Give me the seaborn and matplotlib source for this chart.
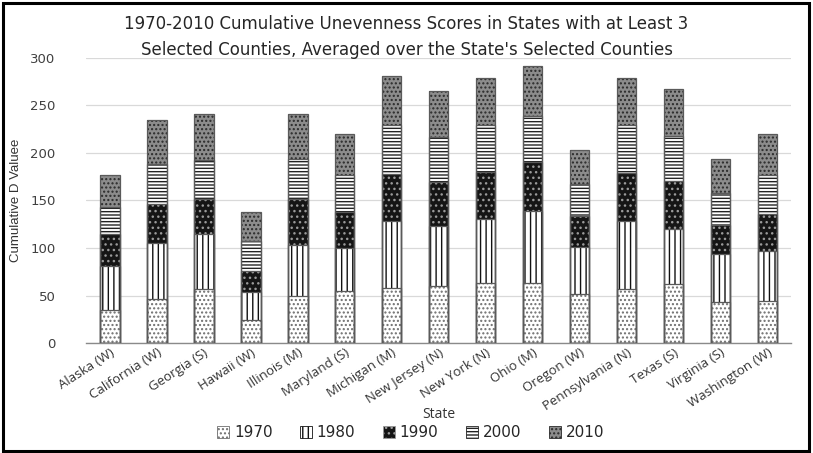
import numpy as np
import pandas as pd
import matplotlib
matplotlib.use("Agg")
import matplotlib.pyplot as plt
from matplotlib.patches import Patch, Rectangle
import seaborn as sns

states = ["Alaska (W)", "California (W)", "Georgia (S)", "Hawaii (W)", "Illinois (M)",
          "Maryland (S)", "Michigan (M)", "New Jersey (N)", "New York (N)", "Ohio (M)",
          "Oregon (W)", "Pennsylvania (N)", "Texas (S)", "Virginia (S)", "Washington (W)"]
years = ["1970", "1980", "1990", "2000", "2010"]

d1970 = [35, 47, 57, 25, 50, 55, 58, 60, 63, 63, 52, 57, 62, 43, 44]
d1980 = [46, 58, 58, 29, 53, 45, 70, 63, 68, 76, 49, 71, 58, 51, 53]
d1990 = [34, 41, 36, 22, 48, 38, 50, 46, 49, 51, 33, 51, 50, 30, 39]
d2000 = [28, 42, 41, 31, 42, 39, 51, 48, 49, 49, 33, 50, 48, 34, 41]
d2010 = [34, 46, 49, 31, 48, 43, 52, 48, 49, 52, 36, 49, 49, 35, 43]

segments = np.array([d1970, d1980, d1990, d2000, d2010], dtype=float)
cumulative = segments.cumsum(axis=0)

# face colour, hatch pattern, hatch colour for each decade
styles = {
    "1970": ("white", "....", "#6e6e6e"),
    "1980": ("white", "|||", "#111111"),
    "1990": ("#151515", "...", "#9a9a9a"),
    "2000": ("white", "-----", "#222222"),
    "2010": ("#8c8c8c", "....", "#2a2a2a"),
}

sns.set_theme(style="white")
plt.rcParams["font.family"] = ["DejaVu Sans"]
plt.rcParams["hatch.linewidth"] = 1.0

fig = plt.figure(figsize=(8.13, 4.53), dpi=100)
ax = fig.add_axes([0.106, 0.242, 0.867, 0.631])

df = pd.DataFrame({"State": states})
for i, yr in enumerate(years):
    df[yr] = cumulative[i]

# draw the stacks from the tallest (cumulative 2010) down to 1970
for i in range(len(years) - 1, -1, -1):
    yr = years[i]
    face, hatch, hcol = styles[yr]
    n0 = len(ax.patches)
    sns.barplot(data=df, x="State", y=yr, order=states, color=face, saturation=1,
                width=0.42, ax=ax, zorder=2)
    for p in ax.patches[n0:]:
        p.set_hatch(hatch)
        p.set_edgecolor(hcol)
        p.set_linewidth(0)

# thin grey outline around every segment
for p in list(ax.patches):
    ax.add_patch(Rectangle((p.get_x(), p.get_y()), p.get_width(), p.get_height(),
                           fill=False, edgecolor="#5a5a5a", linewidth=0.9, zorder=3))

ax.set_ylim(0, 300)
ax.set_xlim(-0.5, len(states) - 0.5)
ax.set_yticks(np.arange(0, 301, 50))
ax.yaxis.grid(True, color="#d9d9d9", linewidth=0.9, zorder=0)
ax.set_axisbelow(True)
for s in ["top", "right", "left"]:
    ax.spines[s].set_visible(False)
ax.spines["bottom"].set_color("#8a8a8a")
ax.spines["bottom"].set_linewidth(1.0)

ax.tick_params(axis="y", length=0, labelsize=9.5, labelcolor="#404040", pad=22)
ax.tick_params(axis="x", length=0, pad=2)
ax.set_xticks(range(len(states)))
ax.set_xticklabels(states, rotation=33, ha="right", rotation_mode="anchor",
                   fontsize=9.5, color="#333333", family=["Open Sans", "DejaVu Sans"])

ax.set_xlabel("State", fontsize=10, color="#333333", labelpad=-4,
              family=["Open Sans", "DejaVu Sans"])
ax.set_ylabel("Cumulative D Valuee", fontsize=9.5, color="#333333", labelpad=6,
              family=["Liberation Sans Narrow", "Liberation Sans", "DejaVu Sans"])

fig.suptitle("1970-2010 Cumulative Unevenness Scores in States with at Least 3\n"
             "Selected Counties, Averaged over the State's Selected Counties",
             x=0.5, y=0.967, fontsize=12, color="#262626", linespacing=1.55)

handles = [Patch(facecolor=styles[yr][0], hatch=styles[yr][1], edgecolor=styles[yr][2],
                 linewidth=0.6) for yr in years]
leg = fig.legend(handles, years, loc="center", bbox_to_anchor=(0.505, 0.045), ncol=5,
                 frameon=False, fontsize=11, handlelength=0.8, handleheight=0.8,
                 handletextpad=0.3, columnspacing=1.8)
for t in leg.get_texts():
    t.set_color("#262626")

# figure border
fig.patches.append(Rectangle((0.004, 0.004), 0.991, 0.99, transform=fig.transFigure,
                             fill=False, edgecolor="black", linewidth=2.2))

fig.savefig("out.png", dpi=100)
